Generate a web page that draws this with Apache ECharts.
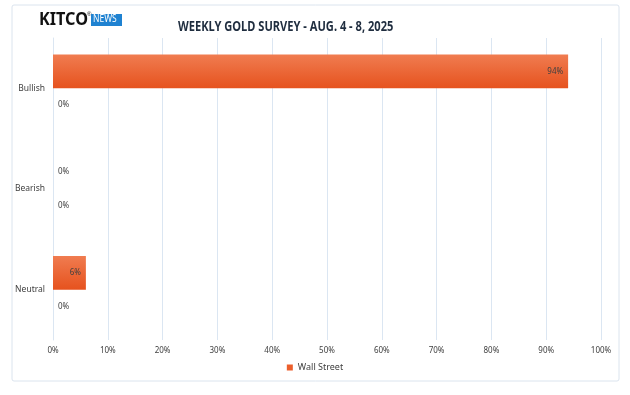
<!DOCTYPE html>
<html>
<head>
<meta charset="utf-8">
<script src="https://cdn.jsdelivr.net/npm/echarts@6/dist/echarts.min.js"></script>
<style>
html,body{margin:0;padding:0;background:#fff;}
#chart{width:630px;height:395px;}
</style>
</head>
<body>
<div id="chart"></div>
<script>
var categories = ['Bullish', 'Bearish', 'Neutral'];
var wallStreet = [94, 0, 6];
var secondSeries = [0, 0, 0];
var xTicks = [0, 10, 20, 30, 40, 50, 60, 70, 80, 90, 100];
var titleText = 'WEEKLY GOLD SURVEY - AUG. 4 - 8, 2025';
var legendName = 'Wall Street';

var chart = echarts.init(document.getElementById('chart'), null, {renderer: 'canvas'});

var barGrad = new echarts.graphic.LinearGradient(0, 0, 0, 1, [
  {offset: 0, color: '#F07C50'},
  {offset: 1, color: '#E6521E'}
]);

function lblFor(v) {
  return v > 0
    ? {show: true, position: 'insideRight', distance: 5}
    : {show: true, position: 'right', distance: 5};
}

var wsData = wallStreet.map(function (v) {
  return {value: v, label: lblFor(v)};
});

var labelStyle = {
  formatter: function (p) { return p.value + '%'; },
  fontSize: 8,
  color: '#404040',
  fontFamily: 'Noto Sans'
};

chart.setOption({
  animation: false,
  backgroundColor: '#ffffff',
  graphic: [
    {type: 'rect', shape: {x: 12, y: 5, width: 607, height: 376, r: 2},
     style: {fill: '#ffffff', stroke: '#dbe4ee', lineWidth: 1}, z: -10},
    {type: 'text', x: 39, y: 11, scaleX: 0.9,
     style: {text: 'KITCO', font: 'bold 18px "Noto Sans", sans-serif', fill: '#111111'}},
    {type: 'text', x: 87, y: 11,
     style: {text: '®', font: '6px sans-serif', fill: '#111111'}},
    {type: 'rect', shape: {x: 91, y: 14, width: 31, height: 12},
     style: {fill: '#1f82d1'}},
    {type: 'text', x: 93, y: 14, scaleX: 0.85,
     style: {text: 'NEWS', font: '10px "Noto Sans", sans-serif', fill: '#ffffff'}},
    {type: 'text', x: 178, y: 19, scaleX: 0.74,
     style: {text: titleText, font: 'bold 15px "Noto Sans", sans-serif', fill: '#1f2d3f'}}
  ],
  legend: {
    data: [legendName],
    bottom: 18,
    left: 'center',
    itemWidth: 6,
    itemHeight: 6,
    itemGap: 4,
    icon: 'rect',
    itemStyle: {color: '#EC5F2C', borderWidth: 0},
    textStyle: {fontSize: 9, color: '#404040', fontFamily: 'Noto Sans'}
  },
  grid: {left: 53, right: 29, top: 38, bottom: 55},
  xAxis: {
    type: 'value',
    min: 0, max: 100, interval: 10,
    axisLabel: {formatter: '{value}%', fontSize: 8, color: '#404040', margin: 7, fontFamily: 'Noto Sans'},
    splitLine: {show: true, lineStyle: {color: '#dbe6f2', width: 1}},
    axisLine: {show: false},
    axisTick: {show: false}
  },
  yAxis: {
    type: 'category',
    data: categories,
    inverse: true,
    axisLabel: {fontSize: 8.5, color: '#404040', margin: 8, fontFamily: 'Noto Sans'},
    axisLine: {show: true, lineStyle: {color: '#dbe6f2', width: 1}},
    axisTick: {show: false}
  },
  series: [
    {
      name: legendName,
      type: 'bar',
      data: wsData,
      barGap: '0%',
      barCategoryGap: '33%',
      itemStyle: {color: barGrad, borderWidth: 0},
      label: labelStyle
    },
    {
      name: 'Main Street',
      type: 'bar',
      data: secondSeries,
      itemStyle: {color: '#7f7f7f'},
      label: Object.assign({show: true, position: 'right', distance: 5}, labelStyle)
    }
  ],
  color: ['#EC6232', '#7f7f7f']
});
</script>
</body>
</html>
